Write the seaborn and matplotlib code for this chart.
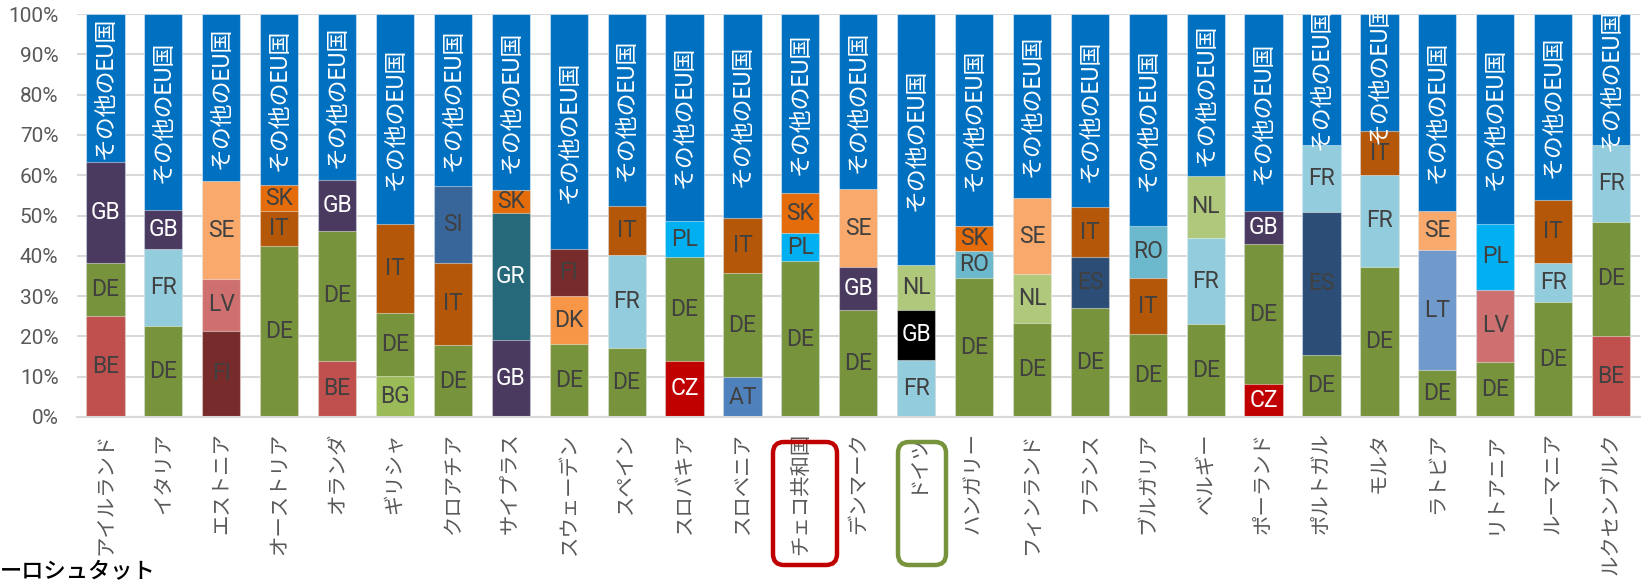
import matplotlib
matplotlib.use("Agg")
import matplotlib.pyplot as plt
from matplotlib.patches import FancyBboxPatch
import numpy as np
import pandas as pd
import seaborn as sns

# Destination countries (x axis)
countries = ["アイルランド", "イタリア", "エストニア", "オーストリア", "オランダ", "ギリシャ",
             "クロアチア", "サイプラス", "スウェーデン", "スペイン", "スロバキア", "スロベニア",
             "チェコ共和国", "デンマーク", "ドイツ", "ハンガリー", "フィンランド", "フランス",
             "ブルガリア", "ベルギー", "ポーランド", "ポルトガル", "モルタ", "ラトビア",
             "リトアニア", "ルーマニア", "ルクセンブルク"]

# Three largest partner shares per country (%), bottom to top
seg1_code = ["BE", "DE", "FI", "DE", "BE", "BG", "DE", "GB", "DE", "DE", "CZ", "AT", "DE", "DE",
             "FR", "DE", "DE", "DE", "DE", "DE", "CZ", "DE", "DE", "DE", "DE", "DE", "BE"]
seg1_val = [25.0, 22.7, 21.4, 42.4, 14.0, 10.2, 17.8, 19.1, 18.0, 17.2, 13.9, 9.9, 38.7, 26.6,
            14.1, 34.6, 23.4, 27.0, 20.5, 23.0, 8.1, 15.5, 37.3, 11.6, 13.7, 28.6, 20.1]
seg2_code = ["DE", "FR", "LV", "IT", "DE", "DE", "IT", "GR", "DK", "FR", "DE", "DE", "PL", "GB",
             "GB", "RO", "NL", "ES", "IT", "FR", "DE", "ES", "FR", "LT", "LV", "FR", "DE"]
seg2_val = [13.2, 19.0, 12.8, 8.6, 32.2, 15.5, 20.5, 31.4, 12.1, 23.0, 25.7, 25.8, 6.9, 10.5,
            12.5, 6.6, 12.0, 12.7, 13.9, 21.4, 34.8, 35.3, 22.7, 29.9, 17.9, 9.6, 28.4]
seg3_code = ["GB", "GB", "SE", "SK", "GB", "IT", "SI", "SK", "FI", "IT", "PL", "IT", "SK", "SE",
             "NL", "SK", "SE", "IT", "RO", "NL", "GB", "FR", "IT", "SE", "PL", "IT", "FR"]
seg3_val = [25.0, 9.6, 24.3, 6.6, 12.6, 22.3, 19.0, 5.8, 11.6, 12.1, 9.1, 13.7, 10.0, 19.5,
            11.0, 6.1, 19.0, 12.3, 13.1, 15.5, 8.1, 16.8, 11.0, 9.7, 16.4, 15.7, 18.9]

other_label = "その他のEU国"
y_ticks = list(range(0, 101, 10))
source_text = "ーロシュタット"

# Colours per partner code
palette = {"DE": "#77933C", "BE": "#C0504D", "GB": "#4B3A60", "FR": "#93CDDD",
           "SE": "#F8A96B", "LV": "#CF7070", "FI": "#772B2B", "SK": "#E46C0A",
           "IT": "#B45709", "BG": "#9BBB59", "SI": "#39669A", "GR": "#25697A",
           "DK": "#F79646", "CZ": "#C00000", "PL": "#00B0F0", "AT": "#4F81BD",
           "NL": "#AFC87B", "RO": "#6CB8CC", "ES": "#2C4D75", "LT": "#7099CC"}
other_color = "#0070C0"
color_override = {("ドイツ", "GB"): "#000000"}
white_text = {"GB", "GR", "CZ"}
dark_text = "#404040"

df = pd.DataFrame({
    "country": countries,
    "c1": seg1_code, "v1": seg1_val,
    "c2": seg2_code, "v2": seg2_val,
    "c3": seg3_code, "v3": seg3_val,
})
df["cum1"] = df["v1"]
df["cum2"] = df["cum1"] + df["v2"]
df["cum3"] = df["cum2"] + df["v3"]
df["other"] = 100 - df["cum3"]
df["total"] = df["cum3"] + df["other"]


def seg_colors(code_col):
    return [color_override.get((c, k), palette[k]) for c, k in zip(df["country"], df[code_col])]


sns.set_theme(style="white")
plt.rcParams["font.family"] = ["Roboto", "Noto Sans CJK JP", "DejaVu Sans"]

W, H = 1644, 583
fig = plt.figure(figsize=(W / 100, H / 100), dpi=100)
ax_l, ax_r, ax_t, ax_b = 76.5, 1640, 14, 417
ax = fig.add_axes([ax_l / W, 1 - ax_b / H, (ax_r - ax_l) / W, (ax_b - ax_t) / H])

bar_w = 0.66
layers = [("total", [other_color] * len(df)),
          ("cum3", seg_colors("c3")),
          ("cum2", seg_colors("c2")),
          ("cum1", seg_colors("c1"))]
for col, cols in layers:
    sns.barplot(data=df, x="country", y=col, hue="country", palette=cols, legend=False,
                saturation=1, width=bar_w, linewidth=0.8, edgecolor=(1, 1, 1, 0.45),
                ax=ax, errorbar=None)

# Segment labels
for i, row in df.iterrows():
    bottom = 0.0
    for code_col, val_col in (("c1", "v1"), ("c2", "v2"), ("c3", "v3")):
        code, val = row[code_col], row[val_col]
        ax.text(i, bottom + val / 2, code, ha="center", va="center", fontsize=16.5,
                color="white" if code in white_text else dark_text, zorder=5)
        bottom += val
    ax.text(i, bottom + row["other"] / 2, other_label, ha="center", va="center",
            rotation=90, fontsize=16.5, color="white", zorder=5, clip_on=True)

ax.set_xlim(-0.5, len(df) - 0.5)
ax.set_ylim(0, 100)
ax.set_yticks(y_ticks)
ax.set_yticklabels([f"{v}%" for v in y_ticks])
ax.set_xlabel("")
ax.set_ylabel("")
ax.yaxis.grid(True, color="#D9D9D9", linewidth=1.5)
ax.xaxis.grid(False)
ax.set_axisbelow(True)
for s in ("top", "right", "left"):
    ax.spines[s].set_visible(False)
ax.spines["bottom"].set_color("#D9D9D9")
ax.spines["bottom"].set_linewidth(1.5)
ax.tick_params(axis="y", length=0, pad=13, labelsize=15, labelcolor="#595959")
ax.tick_params(axis="x", length=0, pad=11, labelsize=14.7, labelcolor="#595959",
               labelrotation=90)
for lab in ax.get_xticklabels():
    lab.set_family(["Noto Sans CJK JP", "DejaVu Sans"])

# Highlight boxes around two country labels (pixel geometry, top-left origin)
for (x0, x1, color) in ((773, 837, "#C00000"), (898, 946, "#77933C")):
    y0, y1 = 442, 565
    box = FancyBboxPatch((x0 / 100, (H - y1) / 100), (x1 - x0) / 100, (y1 - y0) / 100,
                         boxstyle="round,pad=0,rounding_size=0.11",
                         transform=fig.dpi_scale_trans, fill=False,
                         edgecolor=color, linewidth=3.2)
    fig.patches.append(box)

fig.text(0.0, 0 / H, source_text, ha="left", va="bottom", fontsize=16, color="black",
         fontweight="medium", family=["Noto Sans CJK JP", "DejaVu Sans"])

fig.savefig("out.png", dpi=100)
